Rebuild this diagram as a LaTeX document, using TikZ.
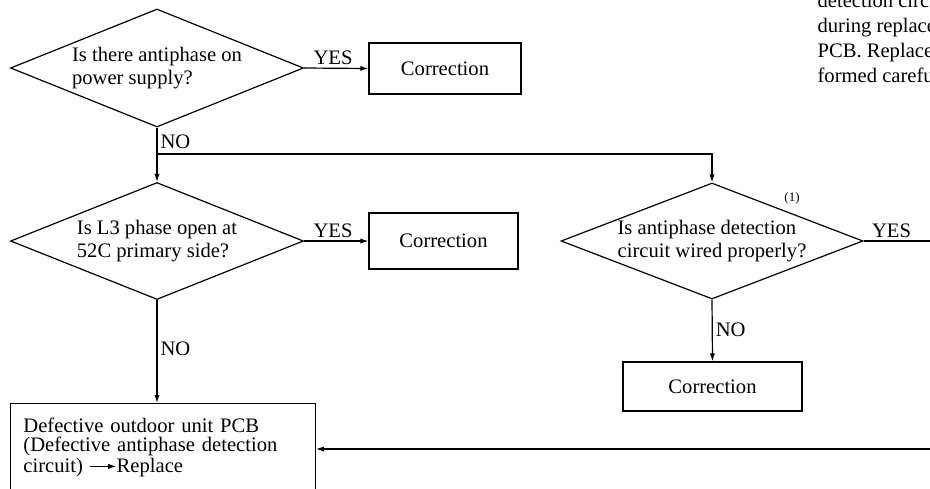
\documentclass[tikz,border=0pt]{standalone}
\usepackage{fontspec}
\setmainfont{Liberation Serif}
\usetikzlibrary{positioning}
\usetikzlibrary{shapes.geometric}
\usetikzlibrary{arrows.meta}

\newcommand{\flowfont}{\fontsize{10.3}{11.2}\selectfont}
\newcommand{\replacearrow}{%
  \tikz[baseline=-0.6ex]\draw[-{Latex[length=4pt,width=2.6pt]},line width=0.5pt] (0,0) -- (13pt,0);}

\begin{document}
\begin{tikzpicture}[
    x=0.5pt, y=-0.5pt,
    line width=0.6pt,
    question/.style={diamond, draw, inner sep=0pt, align=left, font=\flowfont},
    fixbox/.style={rectangle, draw, inner sep=0pt, font=\flowfont},
    flow/.style={-{Latex[length=4pt,width=2.6pt]}},
    answer/.style={font=\flowfont, inner sep=1.5pt}
  ]
  \useasboundingbox (0,0) rectangle (930,488);
  \clip (0,0) rectangle (930,488);

  % the three checks
  \node[question, aspect=2.48, minimum width=146.5pt, minimum height=59pt] (q1) at (157,68)
    {Is there antiphase on\\power supply?};
  \node[question, aspect=2.5, minimum width=146.5pt, minimum height=58.5pt] (q2) at (157,241)
    {Is L3 phase open at\\52C primary side?};
  \node[question, aspect=2.6, minimum width=151pt, minimum height=58pt] (q3) at (712,241)
    {Is antiphase detection\\circuit wired properly?};
  \node[font=\fontsize{6.5}{7}\selectfont, inner sep=0pt] (ref1) at (792,198) {(1)};

  % fixes
  \node[fixbox, minimum width=76pt, minimum height=25.5pt] (fix1) at (445,68.5) {Correction};
  \node[fixbox, minimum width=74.5pt, minimum height=28pt] (fix2) at (443.5,241) {Correction};
  \node[fixbox, minimum width=89.5pt, minimum height=24.5pt] (fix3) at (712.5,386.5) {Correction};

  \node[draw, anchor=north west, minimum width=152.5pt, minimum height=44pt,
        inner sep=0pt, text width=139.5pt, align=left,
        font=\fontsize{10.3}{9.2}\selectfont] (pcb) at (10,403)
    {\makebox[130pt][s]{Defective outdoor unit PCB}\\
     (Defective antiphase detection\\
     circuit) \replacearrow Replace};

  % note running off to the right
  \foreach \txt [count=\i] in {detection circ, during replace, PCB. Replace, formed carefu}
    \node[anchor=base west, inner sep=0pt, font=\flowfont] (note\i) at (817,{-18+25*\i}) {\txt};

  % connectors
  \coordinate (split) at (157,154);
  \coordinate (yesout) at (930,241);
  \coordinate (back) at (930,449);

  \draw[flow] (q1.east) -- (fix1.west) node[answer, above, pos=0.45] {YES};
  \draw[flow] (q1.south) -- (q2.north) node[answer, right, pos=0.27] {NO};
  \draw[flow] (split) -| (q3.north);

  \draw[flow] (q2.east) -- (fix2.west) node[answer, above, pos=0.45] {YES};
  \draw[flow] (q2.south) -- (q2.south |- pcb.north) node[answer, right, pos=0.47] {NO};

  \draw (q3.east) -- (yesout) node[answer, above, pos=0.42] {YES};
  \draw[flow] (q3.south) -- (fix3.north) node[answer, right, pos=0.49] {NO};

  \draw[flow] (back) -- (back -| pcb.east);
\end{tikzpicture}
\end{document}
